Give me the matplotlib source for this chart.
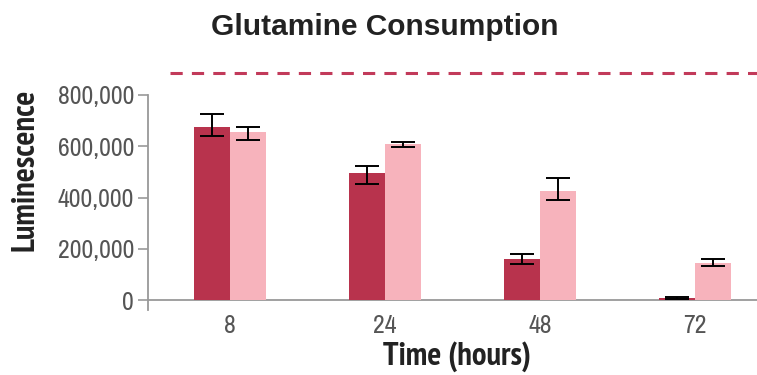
import numpy as np
import matplotlib
matplotlib.use("Agg")
import matplotlib.pyplot as plt
from matplotlib.ticker import FuncFormatter

# glutamine luminescence readings over time
hours = ["8", "24", "48", "72"]
dark_vals = [674000, 494000, 161000, 8000]
dark_err_lo = [34000, 40000, 21000, 5000]
dark_err_hi = [52000, 29000, 19000, 5000]
light_vals = [654000, 609000, 424000, 143000]
light_err_lo = [31000, 11000, 34000, 10000]
light_err_hi = [23000, 8000, 51000, 16000]
ref_level = 885000

dark_col = "#B8334D"
light_col = "#F7B3BC"

fig = plt.figure(figsize=(7.57, 3.75), dpi=100)
ax = fig.add_axes([0.1955, 0.1733, 0.8045, 0.5734])

x = np.arange(len(hours))
w = 0.232
ek = dict(ecolor="black", elinewidth=1.4, capsize=8.3, capthick=1.4)
ax.bar(x - w / 2, dark_vals, w, color=dark_col,
       yerr=[dark_err_lo, dark_err_hi], error_kw=ek, zorder=2)
ax.bar(x + w / 2, light_vals, w, color=light_col,
       yerr=[light_err_lo, light_err_hi], error_kw=ek, zorder=2)

# baseline and reference line above the plot area
ax.axhline(0, color="#999999", lw=1.3, zorder=1)
ax.axhline(ref_level, xmin=0.036, xmax=1.0, color="#C23A5A", lw=2.2,
           ls=(0, (4, 3)), clip_on=False)

ax.set_xlim(-0.53, 3.40)
ax.set_ylim(-39000, 800000)
ax.set_yticks([0, 200000, 400000, 600000, 800000])
ax.yaxis.set_major_formatter(FuncFormatter(lambda v, p: f"{int(v):,}"))
ax.set_xticks(x)
ax.set_xticklabels(hours)

narrow = ["Archivo Narrow", "Liberation Sans", "DejaVu Sans"]
narrow_bold = ["PT Sans Narrow", "Open Sans Condensed", "Liberation Sans", "DejaVu Sans"]
for lab in ax.get_yticklabels() + ax.get_xticklabels():
    lab.set_family(narrow)
    lab.set_fontsize(18.5)
    lab.set_color("#555555")

ax.tick_params(axis="y", direction="out", length=7, width=1.2, color="#999999", pad=3)
ax.tick_params(axis="x", length=0, pad=3)
for s in ["top", "right", "bottom"]:
    ax.spines[s].set_visible(False)
ax.spines["left"].set_color("#999999")
ax.spines["left"].set_linewidth(1.3)

ax.set_ylabel("Luminescence", family=narrow_bold, fontweight="bold", fontsize=23.5,
              color="#222222")
ax.yaxis.set_label_coords(-0.177, 0.65)
ax.set_xlabel("Time (hours)", family=narrow_bold, fontweight="bold", fontsize=23.5,
              color="#222222", labelpad=3)
ax.xaxis.label.set_x(0.508)

fig.text(0.508, 0.928, "Glutamine Consumption", ha="center", va="center",
         family=["Liberation Sans", "DejaVu Sans"], fontsize=21.5,
         fontweight="bold", color="#222222")

fig.savefig("out.png", dpi=100)
